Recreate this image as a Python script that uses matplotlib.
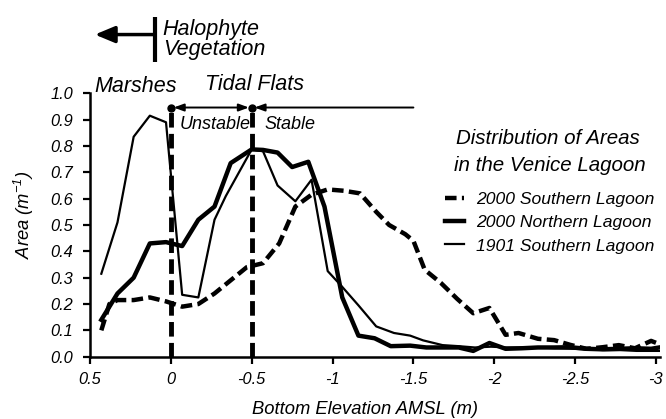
import matplotlib
matplotlib.use("Agg")
import matplotlib.pyplot as plt
from matplotlib.patches import FancyArrowPatch

plt.rcParams['font.family'] = ['Liberation Sans', 'DejaVu Sans']
plt.rcParams['font.style'] = 'italic'
plt.rcParams['mathtext.fontset'] = 'custom'
plt.rcParams['mathtext.rm'] = 'Liberation Sans:italic'
plt.rcParams['mathtext.it'] = 'Liberation Sans:italic'

# ---- data ----
south2000_x = [0.43, 0.38, 0.33, 0.23, 0.13, 0.03, -0.07, -0.17, -0.27, -0.37, -0.47,
               -0.57, -0.67, -0.77, -0.87, -0.97, -1.07, -1.17, -1.27, -1.35, -1.45,
               -1.50, -1.57, -1.67, -1.77, -1.87, -1.97, -2.07, -2.15, -2.27, -2.37,
               -2.47, -2.57, -2.67, -2.77, -2.87, -2.97, -3.02]
south2000_y = [0.10, 0.20, 0.215, 0.215, 0.225, 0.21, 0.19, 0.20, 0.24, 0.29, 0.34,
               0.355, 0.43, 0.57, 0.615, 0.635, 0.63, 0.62, 0.55, 0.50, 0.465,
               0.44, 0.33, 0.28, 0.22, 0.165, 0.185, 0.083, 0.09, 0.068, 0.063,
               0.045, 0.03, 0.036, 0.044, 0.032, 0.06, 0.048]

north2000_x = [0.43, 0.33, 0.23, 0.13, 0.03, -0.07, -0.17, -0.27, -0.37, -0.50, -0.57,
               -0.66, -0.75, -0.85, -0.95, -1.06, -1.16, -1.26, -1.36, -1.48, -1.58,
               -1.68, -1.78, -1.87, -1.97, -2.07, -2.17, -2.27, -2.37, -2.47, -2.57,
               -2.67, -2.77, -2.87, -2.97, -3.02]
north2000_y = [0.14, 0.24, 0.30, 0.43, 0.435, 0.42, 0.52, 0.57, 0.735, 0.787, 0.785,
               0.775, 0.72, 0.74, 0.57, 0.225, 0.08, 0.07, 0.04, 0.042, 0.035,
               0.035, 0.035, 0.022, 0.052, 0.03, 0.032, 0.035, 0.035, 0.036, 0.03,
               0.028, 0.03, 0.032, 0.03, 0.035]

south1901_x = [0.43, 0.33, 0.23, 0.13, 0.03, -0.07, -0.17, -0.27, -0.34, -0.50, -0.57,
               -0.66, -0.77, -0.87, -0.97, -1.06, -1.16, -1.27, -1.38, -1.48, -1.56,
               -1.68, -1.78, -1.88, -1.98, -2.08, -2.18, -2.28, -2.38, -2.48, -2.58,
               -2.68, -2.78, -2.88, -2.98, -3.02]
south1901_y = [0.315, 0.51, 0.835, 0.915, 0.89, 0.235, 0.225, 0.52, 0.61, 0.787, 0.78,
               0.65, 0.59, 0.672, 0.325, 0.265, 0.195, 0.115, 0.09, 0.08, 0.062,
               0.044, 0.04, 0.035, 0.038, 0.035, 0.035, 0.035, 0.032, 0.03, 0.028,
               0.025, 0.025, 0.022, 0.022, 0.022]

series_labels = ['2000 Southern Lagoon', '2000 Northern Lagoon', '1901 Southern Lagoon']
x_ticks = [0.5, 0, -0.5, -1, -1.5, -2, -2.5, -3]
x_ticklabels = ['0.5', '0', '-0.5', '-1', '-1.5', '-2', '-2.5', '-3']
y_ticks = [0.0, 0.1, 0.2, 0.3, 0.4, 0.5, 0.6, 0.7, 0.8, 0.9, 1.0]
zone_bounds = [0, -0.5]
stable_end = -1.5
arrow_y = 0.946

fig = plt.figure(figsize=(6.66, 4.19), dpi=100)
ax = fig.add_axes([90/666, 1 - 356.7/419, 570/666, 263.4/419])

ax.plot(south2000_x, south2000_y, color='black', lw=3.2, dashes=(2.6, 1.2),
        label=series_labels[0], solid_joinstyle='round')
ax.plot(north2000_x, north2000_y, color='black', lw=3.2, label=series_labels[1])
ax.plot(south1901_x, south1901_y, color='black', lw=1.6, label=series_labels[2])

ax.set_xlim(0.5, -3.025)
ax.set_ylim(0, 1.0)
ax.set_xticks(x_ticks)
ax.set_xticklabels(x_ticklabels)
ax.set_yticks(y_ticks)
ax.set_yticklabels([f'{v:.1f}' for v in y_ticks])
for s in ['top', 'right']:
    ax.spines[s].set_visible(False)
for s in ['left', 'bottom']:
    ax.spines[s].set_linewidth(1.8)
ax.tick_params(axis='both', direction='out', length=5, width=1.6, labelsize=11.8)
ax.tick_params(axis='y', pad=7)
ax.tick_params(axis='x', pad=6)

ax.set_xlabel('Bottom Elevation AMSL (m)', fontsize=13.2)
ax.set_ylabel(r'Area (m$^{-1}$)', fontsize=13.2)
ax.xaxis.set_label_coords(0.482, -0.17)
ax.yaxis.set_label_coords(-0.095, 0.538)

# vertical dashed boundaries
for xb in zone_bounds:
    ax.plot([xb, xb], [0, arrow_y], color='black', lw=3.5, dashes=(3, 1.3), clip_on=False)
ax.plot(zone_bounds, [arrow_y, arrow_y], 'o', color='black', ms=5, clip_on=False)

# horizontal arrows
a1 = FancyArrowPatch((zone_bounds[0], arrow_y), (zone_bounds[1], arrow_y),
                     arrowstyle='<|-|>,head_length=6,head_width=2.2', color='black',
                     lw=1.4, shrinkA=2, shrinkB=2, clip_on=False, mutation_scale=1)
ax.add_patch(a1)
a2 = FancyArrowPatch((zone_bounds[1], arrow_y), (stable_end, arrow_y),
                     arrowstyle='<|-,head_length=6,head_width=2.2', color='black',
                     lw=1.4, shrinkA=2, shrinkB=0, clip_on=False, mutation_scale=1)
ax.add_patch(a2)

ax.text(-0.056, 0.883, 'Unstable', fontsize=13, va='center', ha='left')
ax.text(-0.58, 0.883, 'Stable', fontsize=13, va='center', ha='left')

ax.text(0.475, 1.027, 'Marshes', fontsize=15.5, va='center', ha='left', clip_on=False)
ax.text(-0.21, 1.034, 'Tidal Flats', fontsize=15.5, va='center', ha='left', clip_on=False)

# Halophyte vegetation marker
ax.plot([0.1, 0.1], [1.117, 1.288], color='black', lw=3, clip_on=False,
        solid_capstyle='butt')
a3 = FancyArrowPatch((0.1, 1.223), (0.47, 1.223),
                     arrowstyle='-|>,head_length=12,head_width=5', color='black',
                     lw=2.5, shrinkA=0, shrinkB=0, clip_on=False, mutation_scale=1)
ax.add_patch(a3)
ax.text(0.05, 1.205, 'Halophyte\nVegetation', fontsize=15.5, va='center', ha='left',
        linespacing=0.95, clip_on=False)

# legend title as separate text
fig.text(548/666, 1 - 138/419, 'Distribution of Areas', fontsize=14.8,
         ha='center', va='center')
fig.text(550/666, 1 - 165/419, 'in the Venice Lagoon', fontsize=14.8,
         ha='center', va='center')

leg = ax.legend(loc='upper right', bbox_to_anchor=(654/666, 1 - 192/419),
                bbox_transform=fig.transFigure, frameon=False,
                fontsize=12.6, handlelength=1.1,
                handletextpad=0.65, labelspacing=0.45, borderpad=0, borderaxespad=0)

fig.savefig('out.png', dpi=100)
